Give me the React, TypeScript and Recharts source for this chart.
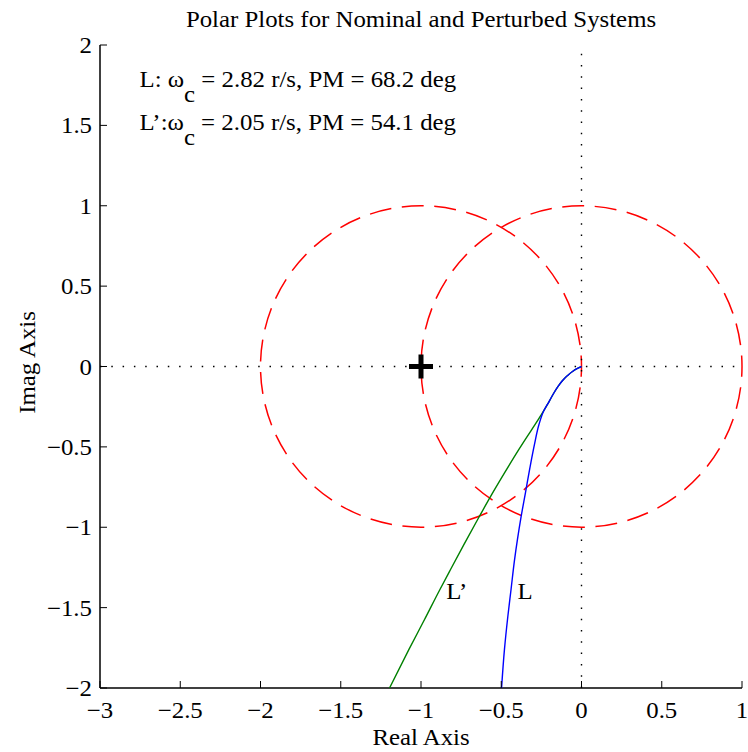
import React from "react";
import {
  ScatterChart,
  Scatter,
  XAxis,
  YAxis,
  ReferenceLine,
  ReferenceArea,
  ReferenceDot,
} from "recharts";

// --- Data ---

const X_TICKS = [-3, -2.5, -2, -1.5, -1, -0.5, 0, 0.5, 1];
const Y_TICKS = [-2, -1.5, -1, -0.5, 0, 0.5, 1, 1.5, 2];

// nominal loop L (blue)
const L_NOMINAL = [
  { x: 0, y: 0 },
  { x: -0.025, y: -0.012 },
  { x: -0.056, y: -0.031 },
  { x: -0.087, y: -0.056 },
  { x: -0.118, y: -0.087 },
  { x: -0.146, y: -0.124 },
  { x: -0.174, y: -0.168 },
  { x: -0.202, y: -0.218 },
  { x: -0.237, y: -0.28 },
  { x: -0.265, y: -0.361 },
  { x: -0.293, y: -0.485 },
  { x: -0.321, y: -0.628 },
  { x: -0.349, y: -0.784 },
  { x: -0.376, y: -0.933 },
  { x: -0.399, y: -1.076 },
  { x: -0.417, y: -1.201 },
  { x: -0.439, y: -1.387 },
  { x: -0.459, y: -1.555 },
  { x: -0.48, y: -1.76 },
  { x: -0.498, y: -2.0 },
];

// perturbed loop L' (green)
const L_PERTURBED = [
  { x: 0, y: 0 },
  { x: -0.025, y: -0.012 },
  { x: -0.056, y: -0.031 },
  { x: -0.087, y: -0.056 },
  { x: -0.118, y: -0.087 },
  { x: -0.146, y: -0.124 },
  { x: -0.174, y: -0.168 },
  { x: -0.202, y: -0.218 },
  { x: -0.25, y: -0.299 },
  { x: -0.31, y: -0.392 },
  { x: -0.39, y: -0.516 },
  { x: -0.474, y: -0.653 },
  { x: -0.559, y: -0.796 },
  { x: -0.647, y: -0.952 },
  { x: -0.732, y: -1.107 },
  { x: -0.816, y: -1.263 },
  { x: -0.882, y: -1.387 },
  { x: -0.978, y: -1.574 },
  { x: -1.075, y: -1.76 },
  { x: -1.196, y: -2.0 },
];

// unit circles centred on -1 and on the origin
const CIRCLE_CENTERS = [-1, 0];
const CIRCLE_RADIUS = 1;

// the critical point -1 + j0
const CRITICAL_POINT = [{ x: -1, y: 0 }];

const NOMINAL_WC = "2.82";
const NOMINAL_PM = "68.2";
const PERTURBED_WC = "2.05";
const PERTURBED_PM = "54.1";

// --- Styling ---

const FONT = "'Liberation Serif', 'Times New Roman', serif";
const FONT_SIZE = 23;
const STRETCH = 1.08; // matlab text comes out a bit wider than times metrics
const TICK_LEN = 7;

function formatTick(v: number): string {
  return v < 0 ? `\u2212${Math.abs(v)}` : `${v}`;
}

function Txt({
  x,
  y,
  anchor = "start",
  rotate = 0,
  children,
}: {
  x: number;
  y: number;
  anchor?: "start" | "middle" | "end";
  rotate?: number;
  children: React.ReactNode;
}) {
  return (
    <text
      transform={`translate(${x},${y}) rotate(${rotate}) scale(${STRETCH},1)`}
      x={0}
      y={0}
      textAnchor={anchor}
      fontFamily={FONT}
      fontSize={FONT_SIZE}
      fill="#000"
    >
      {children}
    </text>
  );
}

// --- Ticks (drawn inward, like matlab) ---

function BottomTick(props: any) {
  const { x, y, payload } = props;
  return (
    <g>
      <line x1={x} x2={x} y1={y} y2={y - TICK_LEN} stroke="#000" />
      <Txt x={x} y={y + 30} anchor="middle">
        {formatTick(payload.value)}
      </Txt>
    </g>
  );
}

function TopTick(props: any) {
  const { x, y } = props;
  return <line x1={x} x2={x} y1={y} y2={y + TICK_LEN} stroke="#000" />;
}

function LeftTick(props: any) {
  const { x, y, payload } = props;
  return (
    <g>
      <line x1={x} x2={x + TICK_LEN} y1={y} y2={y} stroke="#000" />
      <Txt x={x - 8} y={y + 8} anchor="end">
        {formatTick(payload.value)}
      </Txt>
    </g>
  );
}

function RightTick(props: any) {
  const { x, y } = props;
  return <line x1={x} x2={x - TICK_LEN} y1={y} y2={y} stroke="#000" />;
}

// --- Marks ---

function DashedCircle(props: any) {
  const { x, y, width, height } = props;
  const rx = width / 2;
  const ry = height / 2;
  const cx = x + rx;
  const cy = y + ry;
  // start at angle 0 and go counter-clockwise, like matlab
  const d = `M${cx + rx},${cy} A${rx},${ry} 0 0 0 ${cx - rx},${cy} A${rx},${ry} 0 0 0 ${cx + rx},${cy}`;
  const period = (Math.PI * (rx + ry)) / 31;
  const dash = 22;
  return (
    <path
      d={d}
      fill="none"
      stroke="#ff0000"
      strokeWidth={1.5}
      strokeDasharray={`${dash} ${period - dash}`}
      strokeDashoffset={dash / 2}
    />
  );
}

function PlusMarker(props: any) {
  const { cx, cy } = props;
  return (
    <path
      d={`M${cx - 12},${cy} H${cx + 12} M${cx},${cy - 12} V${cy + 12}`}
      stroke="#000"
      strokeWidth={5}
    />
  );
}

const noDot = () => <g />;

function annotation(name: string, sep: string, wc: string, pm: string) {
  return (props: any) => (
    <Txt x={props.cx} y={props.cy}>
      {`${name}${sep}\u03c9`}
      <tspan dy={15}>c</tspan>
      <tspan dy={-15}>{` = ${wc} r/s, PM = ${pm} deg`}</tspan>
    </Txt>
  );
}

function textAt(text: string, anchor: "start" | "middle" = "start", dy = 0) {
  return (props: any) => (
    <Txt x={props.cx} y={props.cy + dy} anchor={anchor}>
      {text}
    </Txt>
  );
}

export default function App() {
  return (
    <div style={{ position: "absolute", left: 0, top: 0, background: "#fff" }}>
      <ScatterChart
        width={748}
        height={752}
        margin={{ top: 45, right: 6, bottom: 0, left: 0 }}
      >
        <XAxis
          type="number"
          dataKey="x"
          domain={[-3, 1]}
          ticks={X_TICKS}
          interval={0}
          allowDataOverflow
          height={64}
          tickSize={0}
          tickMargin={0}
          tickLine={false}
          tick={<BottomTick />}
          axisLine={{ stroke: "#000", strokeWidth: 1.5 }}
          label={{
            content: (p: any) => (
              <Txt x={p.viewBox.x + p.viewBox.width / 2} y={p.viewBox.y + 57} anchor="middle">
                Real Axis
              </Txt>
            ),
          }}
        />
        <XAxis
          xAxisId="top"
          orientation="top"
          type="number"
          dataKey="x"
          domain={[-3, 1]}
          ticks={X_TICKS}
          interval={0}
          allowDataOverflow
          height={0}
          tickSize={0}
          tickMargin={0}
          tickLine={false}
          tick={<TopTick />}
          axisLine={{ stroke: "#000", strokeWidth: 1.5 }}
        />
        <YAxis
          type="number"
          dataKey="y"
          domain={[-2, 2]}
          ticks={Y_TICKS}
          interval={0}
          allowDataOverflow
          width={100}
          tickSize={0}
          tickMargin={0}
          tickLine={false}
          tick={<LeftTick />}
          axisLine={{ stroke: "#000", strokeWidth: 1.5 }}
          label={{
            content: (p: any) => (
              <Txt
                x={p.viewBox.x + 35}
                y={p.viewBox.y + p.viewBox.height / 2 - 4}
                anchor="middle"
                rotate={-90}
              >
                Imag Axis
              </Txt>
            ),
          }}
        />
        <YAxis
          yAxisId="right"
          orientation="right"
          type="number"
          dataKey="y"
          domain={[-2, 2]}
          ticks={Y_TICKS}
          interval={0}
          allowDataOverflow
          width={0}
          tickSize={0}
          tickMargin={0}
          tickLine={false}
          tick={<RightTick />}
          axisLine={{ stroke: "#000", strokeWidth: 1.5 }}
        />

        <ReferenceLine x={0} stroke="#000" strokeWidth={1.4} strokeDasharray="1.5 9.8" />
        <ReferenceLine y={0} stroke="#000" strokeWidth={1.4} strokeDasharray="1.5 9.8" />

        {CIRCLE_CENTERS.map((c) => (
          <ReferenceArea
            key={`circle-${c}`}
            x1={c - CIRCLE_RADIUS}
            x2={c + CIRCLE_RADIUS}
            y1={-CIRCLE_RADIUS}
            y2={CIRCLE_RADIUS}
            ifOverflow="visible"
            shape={<DashedCircle />}
          />
        ))}

        <Scatter
          data={L_PERTURBED}
          line={{ stroke: "#008000", strokeWidth: 1.4 }}
          lineJointType="monotoneY"
          shape={noDot}
          isAnimationActive={false}
        />
        <Scatter
          data={L_NOMINAL}
          line={{ stroke: "#0000ff", strokeWidth: 1.4 }}
          lineJointType="monotoneY"
          shape={noDot}
          isAnimationActive={false}
        />
        <Scatter
          data={CRITICAL_POINT}
          shape={<PlusMarker />}
          isAnimationActive={false}
        />

        <ReferenceDot
          x={-1}
          y={2}
          r={0}
          ifOverflow="visible"
          shape={textAt("Polar Plots for Nominal and Perturbed Systems", "middle", -18)}
        />
        <ReferenceDot
          x={-2.754}
          y={1.736}
          r={0}
          shape={annotation("L:", " ", NOMINAL_WC, NOMINAL_PM)}
        />
        <ReferenceDot
          x={-2.754}
          y={1.474}
          r={0}
          shape={annotation("L\u2019:", "", PERTURBED_WC, PERTURBED_PM)}
        />
        <ReferenceDot x={-0.843} y={-1.449} r={0} shape={textAt("L\u2019")} />
        <ReferenceDot x={-0.398} y={-1.449} r={0} shape={textAt("L")} />
      </ScatterChart>
    </div>
  );
}
